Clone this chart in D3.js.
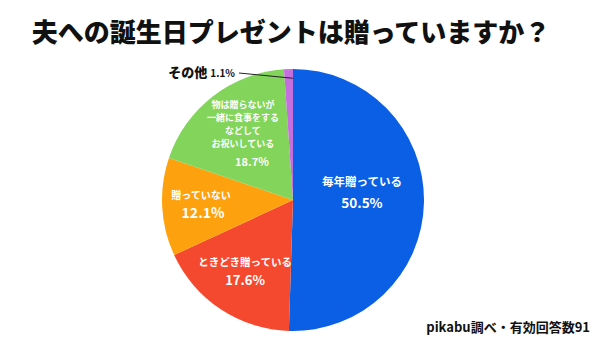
<!DOCTYPE html>
<html><head><meta charset="utf-8">
<script src="https://cdn.jsdelivr.net/npm/d3@7"></script>
<style>
body{margin:0;background:#fff;}
svg{display:block;font-family:"Noto Sans CJK JP","Noto Sans",sans-serif;}
</style></head>
<body><svg id="c" width="600" height="337"></svg>
<script>
const categories = ["毎年贈っている","ときどき贈っている","贈っていない","物は贈らないが\n一緒に食事をする\nなどして\nお祝いしている","その他"];
const values = [50.5, 17.6, 12.1, 18.7, 1.1];
const colors = ["#0b5fe4","#f4492f","#fda20e","#82d45b","#c56edd"];
const title = "夫への誕生日プレゼントは贈っていますか？";
const source = "pikabu調べ・有効回答数91";

const svg = d3.select("#c");
const cx = 293, cy = 200, R = 131;
svg.append("text").attr("x",291).attr("y",41.5).attr("text-anchor","middle")
  .attr("font-size",26).attr("font-weight",900).attr("fill","#111").text(title);
svg.append("text").attr("x",590).attr("y",332).attr("text-anchor","end")
  .attr("font-size",13).attr("font-weight",700).attr("fill","#111").text(source);

const data = categories.map((c,i)=>({c, v:values[i], col:colors[i]}));
const pie = d3.pie().sort(null).value(d=>d.v);
const arcs = pie(data);
const arc = d3.arc().innerRadius(0).outerRadius(R);
const g = svg.append("g").attr("transform",`translate(${cx},${cy})`);
g.selectAll("path").data(arcs).join("path").attr("d",arc).attr("fill",d=>d.data.col);

// label style: offsets from centroid at 0.6R
const labelPos = [
  {dx:-9.6, dy:-14.8, pdx:-9.6, pdy:6.8, fs:11.5, pfs:13.5, lh:13},
  {dx:-4.6, dy:0.5, pdx:-4.6, pdy:19.5, fs:10.5, pfs:13, lh:13},
  {dx:-13.5, dy:-5.2, pdx:-11.5, pdy:13.8, fs:10, pfs:14, lh:13},
  {dx:-2.1, dy:-30.2, pdx:6.9, pdy:28.3, fs:9, pfs:11, lh:13},
];
const lab = d3.arc().innerRadius(R*0.6).outerRadius(R*0.6);
arcs.slice(0,4).forEach((a,i)=>{
  const lp = labelPos[i];
  const [bx,by] = lab.centroid(a);
  const lines = a.data.c.split("\n");
  const t = g.append("text").attr("text-anchor","middle").attr("fill","#fff")
    .attr("font-weight",700).attr("font-size",lp.fs);
  lines.forEach((l,j)=>t.append("tspan").attr("x",bx+lp.dx).attr("y",by+lp.dy + j*lp.lh).text(l));
  g.append("text").attr("text-anchor","middle").attr("fill","#fff").attr("font-weight",700)
    .attr("font-size",lp.pfs).attr("x",bx+lp.pdx).attr("y",by+lp.pdy).text(a.data.v.toFixed(1)+"%");
});
// その他 outside label with leader
const o = arcs[4];
const [ex,ey] = d3.arc().innerRadius(R*0.93).outerRadius(R*0.93).centroid(o);
g.append("line").attr("x1",ex+4).attr("y1",ey).attr("x2",-54).attr("y2",-127)
  .attr("stroke","#222").attr("stroke-width",1);
const ot = svg.append("text").attr("x",235).attr("y",77).attr("text-anchor","end").attr("fill","#111");
ot.append("tspan").attr("font-size",13).attr("font-weight",900).text(o.data.c);
ot.append("tspan").attr("dx",3).attr("font-size",10).attr("font-weight",700).text(o.data.v.toFixed(1)+"%");
</script></body></html>
